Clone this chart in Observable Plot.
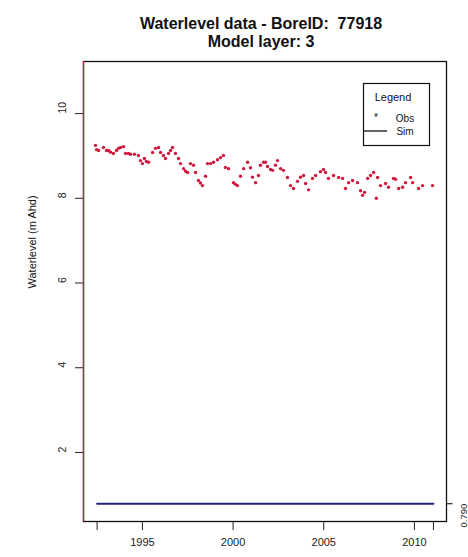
<!DOCTYPE html>
<html>
<head>
<meta charset="utf-8">
<script src="https://cdn.jsdelivr.net/npm/d3@7"></script>
<script src="https://cdn.jsdelivr.net/npm/@observablehq/plot@0.6"></script>
<style>
  html, body { margin: 0; padding: 0; background: #fff; }
  #chart { position: relative; width: 468px; height: 557px; font-family: "Liberation Sans", Arial, sans-serif; }
  #legend { position: absolute; left: 0; top: 0; pointer-events: none; }
</style>
</head>
<body>
<div id="chart"></div>
<script>
const titleLines = ["Waterlevel data - BoreID:  77918", "Model layer: 3"];
const yTitle = "Waterlevel (m Ahd)";

// Observed water levels (decimal year, m AHD)
const obsYear = [
  1992.41, 1992.47, 1992.58, 1992.85, 1993.02, 1993.13, 1993.24, 1993.40, 1993.57, 1993.68,
  1993.79, 1993.96, 1994.07, 1994.23, 1994.34, 1994.56, 1994.78, 1994.89, 1995.00, 1995.11,
  1995.22, 1995.34, 1995.56, 1995.72, 1995.89, 1996.00, 1996.16, 1996.27, 1996.44, 1996.55,
  1996.66, 1996.82, 1996.99, 1997.10, 1997.27, 1997.38, 1997.49, 1997.65, 1997.82, 1997.93,
  1998.09, 1998.20, 1998.31, 1998.48, 1998.59, 1998.76, 1998.92, 1999.14, 1999.31, 1999.47,
  1999.58, 1999.75, 2000.02, 2000.13, 2000.24, 2000.41, 2000.58, 2000.80, 2000.96, 2001.07,
  2001.24, 2001.40, 2001.51, 2001.68, 2001.79, 2001.90, 2002.07, 2002.18, 2002.34, 2002.45,
  2002.62, 2002.78, 2003.00, 2003.17, 2003.33, 2003.55, 2003.72, 2003.89, 2004.00, 2004.16,
  2004.38, 2004.55, 2004.82, 2004.99, 2005.10, 2005.26, 2005.54, 2005.82, 2006.04, 2006.20,
  2006.37, 2006.59, 2006.86, 2007.03, 2007.14, 2007.25, 2007.42, 2007.58, 2007.75, 2007.90,
  2007.97, 2008.13, 2008.41, 2008.57, 2008.85, 2008.96, 2009.13, 2009.35, 2009.51, 2009.79,
  2009.90, 2010.23, 2010.45, 2011.00
];
const obsLevel = [
  9.25, 9.15, 9.13, 9.20, 9.13, 9.13, 9.09, 9.06, 9.13, 9.18,
  9.20, 9.22, 9.06, 9.06, 9.04, 9.04, 9.01, 8.89, 8.82, 8.94,
  8.87, 8.85, 9.08, 9.18, 9.20, 9.08, 9.01, 8.94, 9.06, 9.13,
  9.20, 9.06, 8.94, 8.82, 8.70, 8.64, 8.61, 8.82, 8.78, 8.61,
  8.42, 8.36, 8.30, 8.52, 8.82, 8.82, 8.85, 8.91, 8.96, 9.01,
  8.73, 8.70, 8.37, 8.33, 8.30, 8.52, 8.70, 8.85, 8.72, 8.50,
  8.37, 8.54, 8.78, 8.85, 8.85, 8.75, 8.68, 8.66, 8.78, 8.89,
  8.70, 8.66, 8.49, 8.30, 8.23, 8.40, 8.50, 8.54, 8.35, 8.20,
  8.47, 8.54, 8.63, 8.68, 8.61, 8.47, 8.54, 8.49, 8.47, 8.23,
  8.37, 8.42, 8.37, 8.18, 8.07, 8.14, 8.47, 8.54, 8.61, 8.00,
  8.49, 8.30, 8.35, 8.26, 8.47, 8.45, 8.23, 8.26, 8.37, 8.49,
  8.37, 8.23, 8.30, 8.30
];

// Simulated level (flat)
const simYear = [1992.5, 2011.05];
const simLevel = [0.79, 0.79];
const simAxisLabel = "0.790";

const xDomain = [1991.75, 2011.77];
const yDomain = [0.37, 11.23];
const xTickMarks = [1992.5, 1995, 2000, 2005, 2010, 2011.05];
const xTickLabels = [1995, 2000, 2005, 2010];
const yTicks = [2, 4, 6, 8, 10];

const obs = obsYear.map((x, i) => ({x, y: obsLevel[i]}));
const sim = simYear.map((x, i) => ({x, y: simLevel[i]}));

const red = "#d11a3f";
const navy = "#23237f";

// short horizontal tick pointing right (for the secondary axis)
const rightTick = {draw(ctx) { ctx.moveTo(0, 0); ctx.lineTo(6, 0); }};

const plot = Plot.plot({
  width: 468,
  height: 557,
  marginLeft: 83,
  marginRight: 22,
  marginTop: 61,
  marginBottom: 36,
  x: {domain: xDomain, ticks: xTickMarks, tickSize: 9, tickFormat: () => "", label: null},
  y: {domain: yDomain, ticks: yTicks, tickSize: 8, tickFormat: () => "", label: null},
  style: {fontFamily: "'Liberation Sans', Arial, sans-serif", background: "white", color: "#222"},
  marks: [
    Plot.frame({stroke: "#111", strokeWidth: 1.3}),
    Plot.ruleX([xDomain[0]], {stroke: "#c8203c", strokeWidth: 1.3}),
    Plot.text(yTicks, {y: d => d, text: d => String(d), frameAnchor: "left", dx: -21, rotate: -90, fontSize: 10.5, fill: "#222"}),
    Plot.text([yTitle], {frameAnchor: "left", dx: -51, dy: -3, rotate: -90, fontSize: 11, fill: "#111"}),
    Plot.text(xTickLabels, {x: d => d, text: d => String(d), frameAnchor: "bottom", dy: 24, fontSize: 11, fill: "#222"}),
    Plot.dot([simLevel[0]], {y: d => d, frameAnchor: "right", symbol: rightTick, r: 3, stroke: "#222", strokeWidth: 1.2, fill: "none"}),
    Plot.text([simLevel[0]], {y: d => d, text: () => simAxisLabel, frameAnchor: "right", dx: 17, rotate: -90, fontSize: 9.5, fill: "#222"}),
    Plot.line(sim, {x: "x", y: "y", stroke: navy, strokeWidth: 2}),
    Plot.dot(obs, {x: "x", y: "y", r: 1.7, fill: red, stroke: "none"}),
    Plot.text([titleLines[0]], {frameAnchor: "top", dy: -44, dx: -4, fontWeight: "bold", fontSize: 16, fill: "#111"}),
    Plot.text([titleLines[1]], {frameAnchor: "top", dy: -26, dx: -4, fontWeight: "bold", fontSize: 16, fill: "#111"})
  ]
});
document.getElementById("chart").appendChild(plot);

// Legend box (top-right inside the plot)
const lg = d3.select("#chart").append("svg")
  .attr("id", "legend").attr("width", 468).attr("height", 557)
  .style("font-family", "'Liberation Sans', Arial, sans-serif");
lg.append("rect").attr("x", 363.5).attr("y", 83.5).attr("width", 66).attr("height", 62)
  .attr("fill", "white").attr("stroke", "#111").attr("stroke-width", 1.2);
lg.append("text").attr("x", 393).attr("y", 101).attr("text-anchor", "middle")
  .attr("font-size", 11).attr("fill", "#111").text("Legend");
lg.append("text").attr("x", 376).attr("y", 121).attr("text-anchor", "middle")
  .attr("font-size", 10).attr("fill", "#111").text("*");
lg.append("text").attr("x", 405).attr("y", 122).attr("text-anchor", "middle")
  .attr("font-size", 10).attr("fill", "#111").text("Obs");
lg.append("line").attr("x1", 364).attr("x2", 387).attr("y1", 131).attr("y2", 131)
  .attr("stroke", "#111").attr("stroke-width", 1.3);
lg.append("text").attr("x", 405).attr("y", 135).attr("text-anchor", "middle")
  .attr("font-size", 10).attr("fill", "#111").text("Sim");
</script>
</body>
</html>
